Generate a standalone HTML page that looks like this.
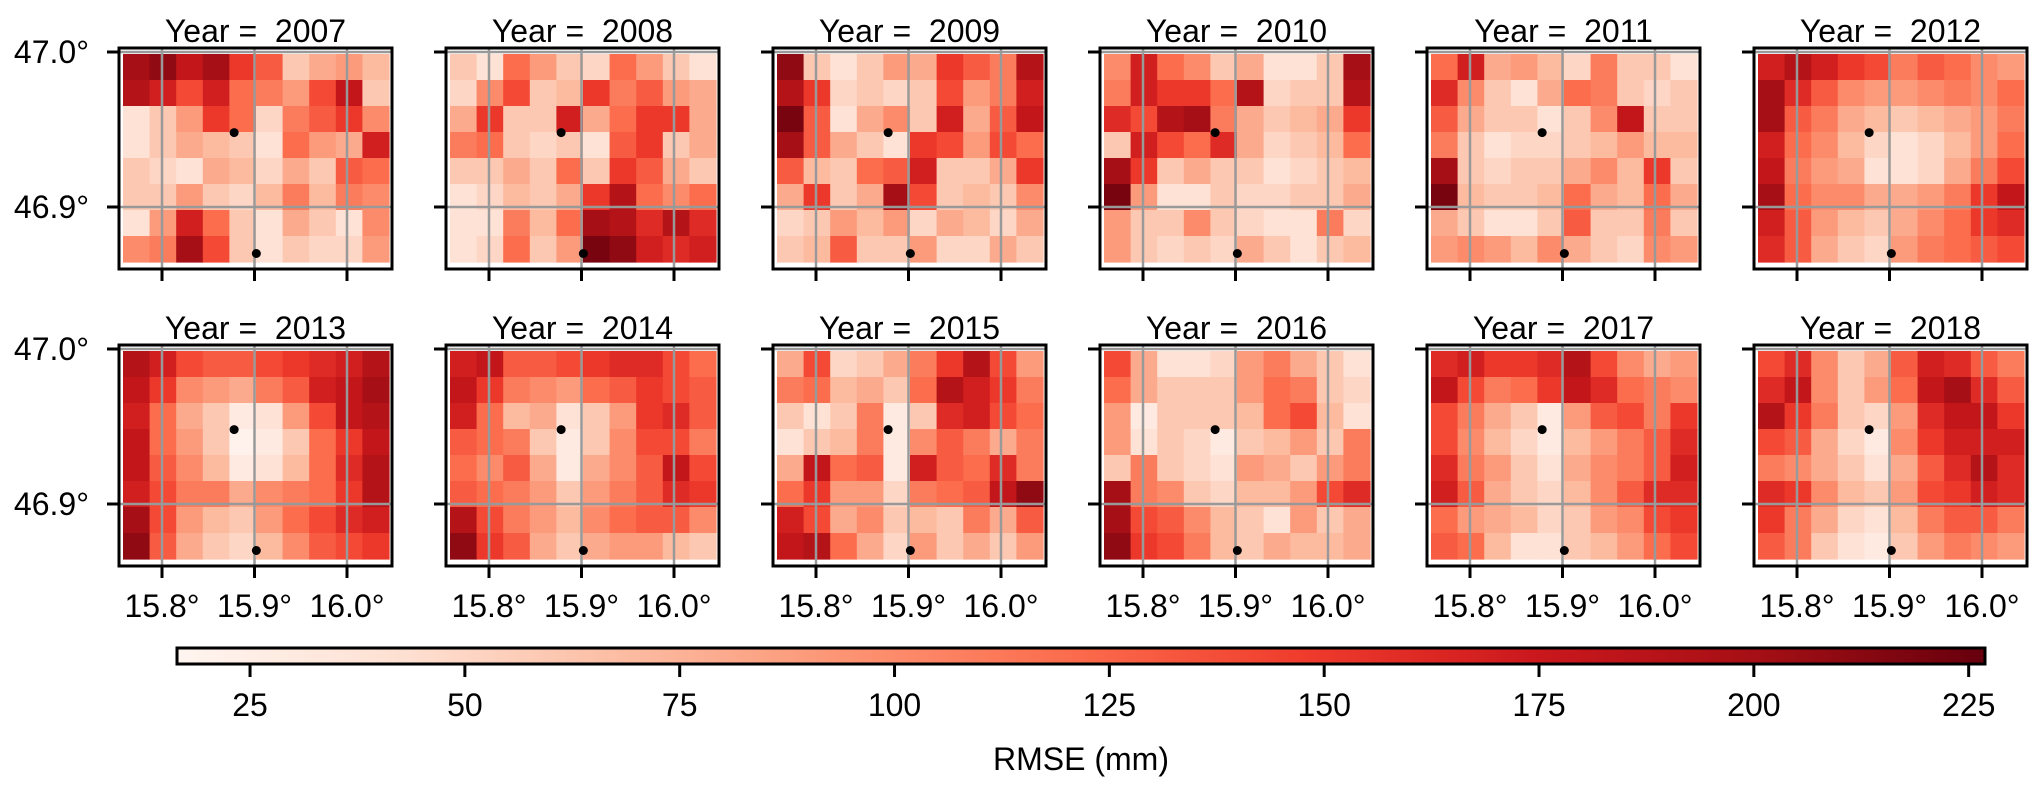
<!DOCTYPE html>
<html><head><meta charset="utf-8"><style>
html,body{margin:0;padding:0;background:#fff;}
svg text{font-family:"Liberation Sans",sans-serif;fill:#000;}
</style></head><body>
<svg id="fig" width="2042" height="789" xmlns="http://www.w3.org/2000/svg"></svg>
<script>
const years = [2007,2008,2009,2010,2011,2012,2013,2014,2015,2016,2017,2018];
const xTicks = [15.8,15.9,16.0];
const xTickLabels = ["15.8°","15.9°","16.0°"];
const yTicks = [47.0,46.9];
const yTickLabels = ["47.0°","46.9°"];
const cbTicks = [25,50,75,100,125,150,175,200,225];
const cbMin = 16.5, cbMax = 226.9;
const stations = [[15.878,46.948],[15.902,46.870]];
const v2007 = [[200,210,180,200,150,130,60,80,90,70],[190,170,140,170,120,110,90,140,180,60],[40,60,90,150,120,50,110,130,150,100],[40,60,80,70,60,40,120,90,80,170],[60,50,40,80,70,50,80,60,130,120],[60,60,90,60,50,70,110,70,110,100],[40,90,170,120,60,40,80,60,40,100],[100,110,200,140,60,40,60,50,50,90]];
const v2008 = [[60,40,120,90,60,50,120,90,60,40],[50,100,140,60,70,150,110,130,90,80],[80,150,60,60,170,80,120,150,150,80],[110,120,60,50,60,40,130,150,60,80],[60,60,80,60,120,60,150,130,80,60],[40,50,70,60,80,150,190,120,100,120],[40,40,110,70,120,200,190,160,190,160],[40,50,120,60,90,220,210,170,160,170]];
const v2009 = [[210,60,40,60,90,80,150,130,110,190],[190,150,50,60,50,60,140,90,110,170],[220,130,40,80,100,60,170,80,130,180],[200,130,80,60,40,150,140,90,140,120],[130,70,60,120,130,170,60,60,80,150],[80,150,60,80,200,140,60,70,60,100],[50,60,90,70,90,50,80,70,50,80],[60,70,130,60,60,90,50,50,80,60]];
const v2010 = [[100,170,120,100,60,80,40,40,60,200],[110,170,150,150,120,190,50,60,60,190],[160,140,190,200,110,80,60,70,80,150],[60,170,140,120,160,80,50,60,70,120],[200,150,60,80,60,60,40,50,60,70],[220,90,40,40,60,50,50,60,60,80],[90,60,60,100,60,50,40,40,110,50],[90,60,50,60,50,80,60,40,60,70]];
const v2011 = [[120,170,80,90,70,50,110,60,60,40],[160,100,60,40,80,120,110,60,50,60],[130,80,60,60,40,60,100,180,60,60],[110,60,40,50,50,60,70,90,70,70],[200,60,50,60,60,80,100,70,150,60],[220,70,60,60,70,120,80,70,120,80],[80,60,40,40,60,130,60,60,110,60],[90,100,90,70,100,80,60,50,100,90]];
const v2012 = [[170,190,170,150,140,110,130,120,100,90],[200,160,130,100,90,90,100,110,100,120],[200,130,110,80,70,60,70,80,90,110],[170,120,100,70,50,40,50,70,90,120],[180,110,90,80,40,40,50,80,110,140],[200,120,100,100,80,80,90,110,150,180],[170,130,90,70,60,80,100,120,150,160],[160,130,80,60,50,90,110,120,130,140]];
const v2013 = [[190,170,140,130,130,140,150,160,170,190],[180,150,100,90,80,110,130,170,180,200],[170,120,80,60,30,40,90,140,180,190],[180,120,90,60,20,30,60,120,150,180],[180,130,100,70,30,40,70,120,160,190],[170,140,110,110,80,100,110,120,150,190],[200,140,90,70,60,90,120,140,160,170],[210,130,80,60,50,70,100,130,140,150]];
const v2014 = [[170,180,130,130,140,150,160,160,140,120],[180,150,110,100,90,120,130,150,140,130],[170,120,70,80,40,60,90,150,160,130],[130,120,110,60,30,60,100,140,140,110],[120,100,130,80,30,80,100,130,180,140],[130,120,110,90,60,90,110,130,160,150],[190,140,110,90,70,100,120,130,130,100],[210,150,130,80,60,80,90,90,70,60]];
const v2015 = [[80,140,50,60,80,110,150,190,140,90],[110,120,70,80,60,120,190,170,150,110],[60,40,60,110,30,60,160,170,140,120],[40,60,70,110,30,100,130,110,80,110],[80,180,120,130,30,170,130,120,160,110],[120,150,90,90,50,110,120,130,180,210],[170,140,80,100,60,70,60,110,80,130],[180,190,120,80,50,90,60,80,60,90]];
const v2016 = [[140,80,40,40,50,90,110,80,60,40],[120,80,60,60,60,90,120,110,60,50],[90,30,60,60,60,70,120,140,70,40],[90,40,60,50,30,60,70,90,60,110],[60,110,60,50,40,90,80,60,90,110],[200,110,100,60,50,70,70,90,140,160],[200,140,130,100,70,60,40,90,60,80],[210,150,140,110,70,60,80,70,70,80]];
const v2017 = [[160,170,150,150,160,190,140,100,80,90],[180,140,110,120,150,180,160,120,110,100],[140,110,80,60,30,90,130,140,110,150],[140,100,70,50,30,70,90,110,130,160],[160,110,90,60,40,80,100,110,130,170],[170,130,80,60,50,70,100,130,160,160],[120,90,80,70,50,60,90,100,140,150],[130,120,70,40,40,60,70,90,120,140]];
const v2018 = [[140,160,100,60,80,130,170,160,130,110],[160,180,100,60,90,120,180,200,160,130],[190,150,110,60,50,90,160,180,180,150],[140,130,80,50,30,100,150,170,170,170],[110,100,80,60,40,80,130,160,190,160],[160,150,100,70,60,90,140,150,170,160],[150,110,80,50,40,70,110,130,130,110],[130,110,60,40,30,60,90,110,100,90]];
const panelValues = [v2007,v2008,v2009,v2010,v2011,v2012,v2013,v2014,v2015,v2016,v2017,v2018];

const NS = "http://www.w3.org/2000/svg";
const svg = document.getElementById('fig');
function mk(tag, attrs, parent){ const e=document.createElementNS(NS,tag); for(const k in attrs) e.setAttribute(k,attrs[k]); (parent||svg).appendChild(e); return e; }
const stops = ["#fff5f0","#fee0d2","#fcbba1","#fc9272","#fb6a4a","#ef3b2c","#cb181d","#a50f15","#67000d"];
function hex(h){return [1,3,5].map(i=>parseInt(h.substr(i,2),16));}
const stopRGB = stops.map(hex);
function cmap(v){
  let t=(v-cbMin)/(cbMax-cbMin); t=Math.max(0,Math.min(1,t));
  const p=t*8, i=Math.min(7,Math.floor(p)), f=p-i;
  const a=stopRGB[i], b=stopRGB[i+1];
  return "rgb("+a.map((c,k)=>Math.round(c+(b[k]-c)*f)).join(",")+")";
}
const PW=273, PH=221, lefts=[119,446,773,1100,1427,1754], tops=[48,345];
function xScale(lon){ return 43 + (lon-15.8)*925; }
function yScale(lat){ return 4 + (47.0-lat)*1550; }
const NC=10, NR=8, DX0=4, DX1=270, DY0=6, DY1=214;

years.forEach((yr,idx)=>{
  const col=idx%6, row=Math.floor(idx/6);
  const L=lefts[col], T=tops[row];
  const g=mk('g',{transform:`translate(${L},${T})`});
  
  
  const vals=panelValues[idx];
  const cw=(DX1-DX0)/NC, ch=(DY1-DY0)/NR;
  vals.forEach((r,ri)=>r.forEach((v,ci)=>{
    const c=mk('rect',{x:(DX0+ci*cw).toFixed(2),y:(DY0+ri*ch).toFixed(2),width:(cw+0.6).toFixed(2),height:(ch+0.6).toFixed(2),fill:cmap(v)},g);
    
    
  }));
  xTicks.forEach(t=>{ const x=xScale(t); mk('line',{x1:x,x2:x,y1:0,y2:PH,stroke:'#999',"stroke-width":2.5},g); });
  yTicks.forEach(t=>{ const y=yScale(t); mk('line',{x1:0,x2:PW,y1:y,y2:y,stroke:'#999',"stroke-width":2.5},g); });
  stations.forEach(s=>{
    const d=mk('circle',{cx:xScale(s[0]),cy:yScale(s[1]),r:4.5,fill:'#000'},g);
    
    
  });
  const fr=mk('rect',{x:0,y:0,width:PW,height:PH,fill:'none',stroke:'#000',"stroke-width":3},g);
  
  
  xTicks.forEach((t,i)=>{
    const x=xScale(t);
    mk('line',{x1:x,x2:x,y1:PH,y2:PH+12,stroke:'#000',"stroke-width":3},g);
    if(row===1){
      const tx=mk('text',{x:x,y:PH+51,"font-size":32,"text-anchor":"middle"},g);
      tx.textContent=xTickLabels[i];
      
      
    }
  });
  yTicks.forEach((t,i)=>{
    const y=yScale(t);
    mk('line',{x1:-12,x2:0,y1:y,y2:y,stroke:'#000',"stroke-width":3},g);
    if(col===0){
      const tx=mk('text',{x:-30,y:y+11,"font-size":32,"text-anchor":"end"},g);
      tx.textContent=yTickLabels[i];
      
      
    }
  });
  const ti=mk('text',{x:PW/2,y:-6,"font-size":32,"text-anchor":"middle"},g);
  ti.textContent='Year =  '+yr;
  ti.style.whiteSpace='pre';
  
  
});

const CBL=177, CBR=1985, CBT=648, CBB=664;
function cbX(v){ return CBL + (v-cbMin)/(cbMax-cbMin)*(CBR-CBL); }
const defs=mk('defs',{});
const grad=mk('linearGradient',{id:'cbg',x1:0,x2:1,y1:0,y2:0},defs);
stops.forEach((s,i)=>mk('stop',{offset:(i/8),"stop-color":s},grad));
const cb=mk('rect',{x:CBL,y:CBT,width:CBR-CBL,height:CBB-CBT,fill:'url(#cbg)',stroke:'#000',"stroke-width":3});


cbTicks.forEach(t=>{
  const x=cbX(t);
  mk('line',{x1:x,x2:x,y1:CBB,y2:CBB+13,stroke:'#000',"stroke-width":3});
  const tx=mk('text',{x:x,y:716,"font-size":32,"text-anchor":"middle"});
  tx.textContent=String(t);
  
  
});
const cl=mk('text',{x:(CBL+CBR)/2,y:770,"font-size":32,"text-anchor":"middle"});
cl.textContent='RMSE (mm)';


</script>
</body></html>
